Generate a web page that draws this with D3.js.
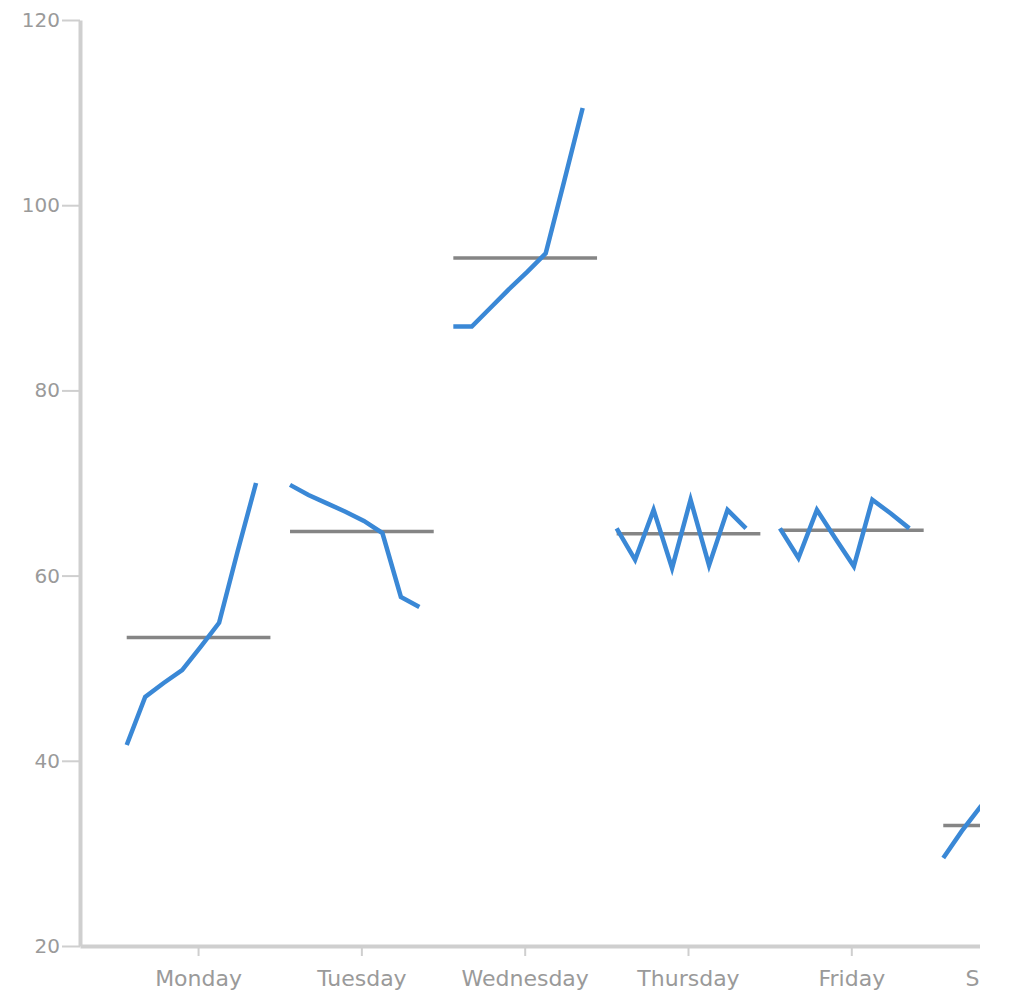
<!DOCTYPE html>
<html>
<head>
<meta charset="utf-8">
<script src="https://cdn.jsdelivr.net/npm/d3@7"></script>
<style>
  html, body { margin: 0; padding: 0; background: #fff; }
  svg { display: block; }
  .axis text { font-family: "DejaVu Sans", sans-serif; fill: #9a9a9a; }
  .axis .domain { stroke: #cfcfcf; stroke-width: 4px; }
  .axis .tick line { stroke: #cfcfcf; stroke-width: 2px; }
</style>
</head>
<body>
<script>
// ---- Data ----
const days = ["Monday", "Tuesday", "Wednesday", "Thursday", "Friday", "Saturday", "Sunday"];
const monday    = [41.7, 46.9, 48.4, 49.8, 52.3, 54.9, 62.6, 70.0];
const tuesday   = [69.8, 68.7, 67.8, 66.9, 65.9, 64.6, 57.7, 56.6];
const wednesday = [86.9, 86.9, 88.9, 90.9, 92.8, 94.8, 102.6, 110.5];
const thursday  = [65.1, 61.7, 67.1, 60.8, 68.2, 61.1, 67.1, 65.1];
const friday    = [65.1, 61.9, 67.1, 64.0, 61.0, 68.2, 66.7, 65.1];
const saturday  = [29.5, 32.4, 35.0, 34.0, 33.5, 32.0, 34.5, 33.1];
const yTicks = [20, 40, 60, 80, 100, 120];

const series = [
  { day: "Monday", values: monday },
  { day: "Tuesday", values: tuesday },
  { day: "Wednesday", values: wednesday },
  { day: "Thursday", values: thursday },
  { day: "Friday", values: friday },
  { day: "Saturday", values: saturday }
];

// ---- Layout ----
const W = 980, H = 999;
const mLeft = 80, mTop = 20, mBottom = 946;

const svg = d3.select("body").append("svg")
  .attr("width", W).attr("height", H);

const x = d3.scaleBand()
  .domain(days)
  .range([mLeft, 1297])
  .paddingInner(0.12)
  .paddingOuter(0.286);

const y = d3.scaleLinear()
  .domain([20, 120])
  .range([mBottom, mTop]);

const week = d3.scaleLinear()
  .domain([0, 7])
  .range([0, x.bandwidth() * 0.9]);

// Axes
svg.append("g")
  .attr("class", "axis x")
  .attr("transform", `translate(0,${mBottom})`)
  .call(d3.axisBottom(x).tickSizeInner(10).tickSizeOuter(0).tickPadding(10))
  .call(g => g.selectAll("text").attr("font-size", 22).attr("dy", "0.9em"));

svg.append("g")
  .attr("class", "axis y")
  .attr("transform", `translate(${mLeft},0)`)
  .call(d3.axisLeft(y).tickValues(yTicks).tickSizeInner(18).tickSizeOuter(0).tickPadding(2))
  .call(g => g.selectAll("text").attr("font-size", 20));

// Groups
const groups = svg.append("g").selectAll("g")
  .data(series)
  .join("g")
  .attr("transform", d => `translate(${x(d.day)},0)`);

// Mean lines
groups.append("line")
  .attr("x1", 0)
  .attr("x2", x.bandwidth())
  .attr("y1", d => y(d3.mean(d.values)))
  .attr("y2", d => y(d3.mean(d.values)))
  .attr("stroke", "#858585")
  .attr("stroke-width", 3.5);

// Data lines
const line = d3.line()
  .x((v, i) => week(i))
  .y(v => y(v));

groups.append("path")
  .attr("d", d => line(d.values))
  .attr("fill", "none")
  .attr("stroke", "#3a88d6")
  .attr("stroke-width", 4.5);
</script>
</body>
</html>
